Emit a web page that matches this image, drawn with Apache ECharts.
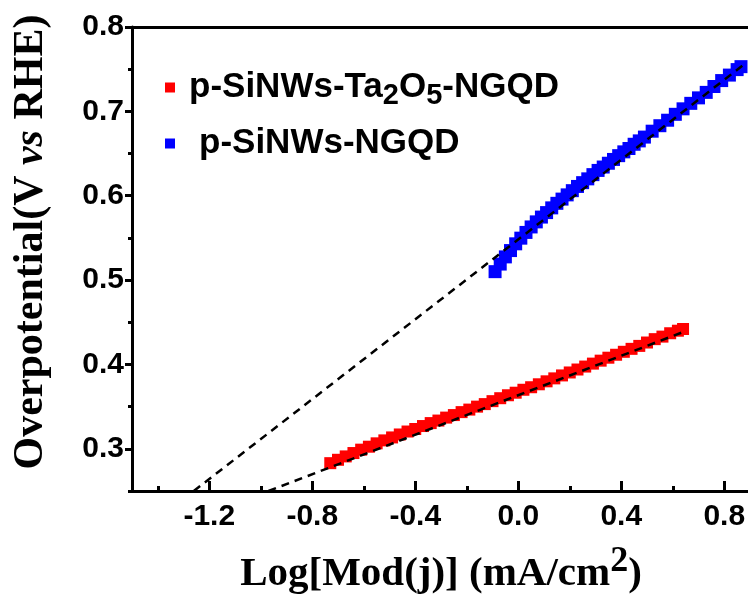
<!DOCTYPE html>
<html>
<head>
<meta charset="utf-8">
<script src="https://cdn.jsdelivr.net/npm/echarts@6/dist/echarts.min.js"></script>
<style>html,body{margin:0;padding:0;background:#fff;}#c{width:748px;height:596px;}</style>
</head>
<body>
<div id="c"></div>
<script>
// ---- data ----
const redName = 'p-SiNWs-Ta2O5-NGQD';
const blueName = 'p-SiNWs-NGQD';

const redX = [-0.73,-0.70,-0.67,-0.64,-0.61,-0.58,-0.55,-0.52,-0.49,-0.46,-0.43,-0.40,-0.37,-0.34,-0.31,-0.28,-0.25,-0.22,-0.19,-0.16,-0.13,-0.10,-0.07,-0.04,-0.01,0.02,0.05,0.08,0.11,0.14,0.17,0.20,0.23,0.26,0.29,0.32,0.35,0.38,0.41,0.44,0.47,0.50,0.53,0.56,0.59,0.62,0.64];
const redY = [0.283,0.287,0.291,0.295,0.299,0.3025,0.3065,0.310,0.3135,0.317,0.3205,0.3235,0.327,0.3305,0.3335,0.337,0.340,0.3435,0.3465,0.350,0.353,0.3565,0.360,0.3635,0.3665,0.370,0.373,0.3765,0.380,0.3835,0.387,0.3905,0.394,0.3975,0.401,0.4045,0.408,0.4115,0.415,0.4185,0.422,0.426,0.430,0.433,0.437,0.440,0.442];

const blueX = [-0.09,-0.07,-0.05,-0.03,-0.01,0.01,0.03,0.05,0.07,0.09,0.11,0.13,0.15,0.17,0.19,0.21,0.23,0.25,0.27,0.29,0.31,0.33,0.35,0.37,0.39,0.41,0.43,0.45,0.47,0.49,0.52,0.55,0.58,0.61,0.64,0.67,0.70,0.73,0.76,0.79,0.82,0.85,0.865];
const blueY = [0.510,0.519,0.5275,0.535,0.543,0.5497,0.5565,0.563,0.569,0.5747,0.580,0.5856,0.591,0.596,0.601,0.606,0.611,0.6155,0.620,0.625,0.630,0.634,0.6385,0.643,0.6475,0.652,0.656,0.661,0.665,0.6695,0.6765,0.683,0.6895,0.6965,0.703,0.7095,0.716,0.7225,0.7295,0.7365,0.743,0.7495,0.753];

// Tafel fit lines (end points)
const fitBlueX = [-1.26, 0.87];
const fitBlueY = [0.25, 0.754];
const fitRedX = [-0.97, 0.645];
const fitRedY = [0.25, 0.439];

// ticks
const xTicks = [-1.2,-0.8,-0.4,0.0,0.4,0.8];
const xMinorTicks = [-1.4,-1.0,-0.6,-0.2,0.2,0.6];
const yTicks = [0.3,0.4,0.5,0.6,0.7,0.8];
const yMinorTicks = [0.25,0.35,0.45,0.55,0.65,0.75];

// ---- chart ----
const zip = (xs, ys) => xs.map((x, i) => [x, ys[i]]);
const SANS = '"Liberation Sans", Arial, sans-serif';
const SERIF = '"Liberation Serif", "Times New Roman", serif';
const black = '#000';

const chart = echarts.init(document.getElementById('c'), null, {renderer: 'canvas'});
const xMin = -1.5, xMax = 0.9, yMin = 0.25, yMax = 0.8;

const option = {
  animation: false,
  backgroundColor: '#fff',
  grid: {left: 132, right: -2, top: 27, bottom: 105, containLabel: false, outerBoundsMode: 'none'},
  legend: {
    orient: 'vertical', left: 160, top: 60, itemWidth: 10, itemHeight: 10, itemGap: 16,
    icon: 'rect',
    data: [redName, blueName],
    formatter: function (name) {
      if (name === redName) return '{sp1|}{t|p-SiNWs-Ta}{s|2}{t|O}{s|5}{t|-NGQD}';
      return '{sp2|}{t|p-SiNWs-NGQD}';
    },
    textStyle: {
      color: black, fontFamily: SANS, fontWeight: 'bold', fontSize: 35,
      rich: {
        sp1: {width: 9},
        sp2: {width: 19},
        t: {fontFamily: SANS, fontWeight: 'bold', fontSize: 35, color: black, lineHeight: 36},
        s: {fontFamily: SANS, fontWeight: 'bold', fontSize: 29, color: black, lineHeight: 36, padding: [16, 0, 0, 0]}
      }
    }
  },
  xAxis: [
    {
      type: 'value', min: xMin, max: xMax, position: 'bottom',
      name: '{a|Log[Mod(j)] (mA/cm}{u|2}{a|)}',
      nameLocation: 'middle', nameGap: 60,
      nameTextStyle: {
        rich: {
          a: {fontFamily: SERIF, fontWeight: 'bold', fontSize: 41, color: black, lineHeight: 46},
          u: {fontFamily: SERIF, fontWeight: 'bold', fontSize: 36, color: black, lineHeight: 46, padding: [0, 0, 24, 0]}
        }
      },
      axisLine: {onZero: false, lineStyle: {color: black, width: 3}},
      axisTick: {inside: true, length: 10, customValues: xTicks, lineStyle: {color: black, width: 3}},
      axisLabel: {customValues: xTicks, formatter: v => v.toFixed(1), fontFamily: SANS, fontWeight: 'bold', fontSize: 30, color: black, margin: 11},
      splitLine: {show: false}
    },
    {
      type: 'value', min: xMin, max: xMax, position: 'bottom',
      axisLine: {show: false, onZero: false},
      axisTick: {inside: true, length: 5, customValues: xMinorTicks, lineStyle: {color: black, width: 3}},
      axisLabel: {show: false},
      splitLine: {show: false}
    },
    {
      type: 'value', min: xMin, max: xMax, position: 'top',
      axisLine: {onZero: false, lineStyle: {color: black, width: 3}},
      axisTick: {show: false}, axisLabel: {show: false}, splitLine: {show: false}
    }
  ],
  yAxis: [
    {
      type: 'value', min: yMin, max: yMax, position: 'left',
      name: '{a|Overpotential(V }{i|vs}{a| RHE)}',
      nameLocation: 'middle', nameGap: 80,
      nameTextStyle: {
        padding: [0, 0, 0, 34],
        rich: {
          a: {fontFamily: SERIF, fontWeight: 'bold', fontSize: 42, color: black},
          i: {fontFamily: SERIF, fontWeight: 'bold', fontStyle: 'italic', fontSize: 42, color: black}
        }
      },
      axisLine: {onZero: false, lineStyle: {color: black, width: 3}},
      axisTick: {inside: false, length: 7, customValues: yTicks, lineStyle: {color: black, width: 3}},
      axisLabel: {customValues: yTicks, formatter: v => v.toFixed(1), fontFamily: SANS, fontWeight: 'bold', fontSize: 30, color: black, margin: 8},
      splitLine: {show: false}
    },
    {
      type: 'value', min: yMin, max: yMax, position: 'left',
      axisLine: {show: false, onZero: false},
      axisTick: {inside: false, length: 4, customValues: yMinorTicks, lineStyle: {color: black, width: 3}},
      axisLabel: {show: false},
      splitLine: {show: false}
    }
  ],
  series: [
    {
      name: redName, type: 'scatter', xAxisIndex: 0, yAxisIndex: 0,
      symbol: 'rect', symbolSize: 12, itemStyle: {color: '#ff0000', opacity: 1},
      emphasis: {disabled: true},
      data: zip(redX, redY), z: 2
    },
    {
      name: blueName, type: 'scatter', xAxisIndex: 0, yAxisIndex: 0,
      symbol: 'rect', symbolSize: 13, itemStyle: {color: '#0000ff', opacity: 1},
      emphasis: {disabled: true},
      data: zip(blueX, blueY), z: 2
    },
    {
      name: 'fitBlue', type: 'line', xAxisIndex: 0, yAxisIndex: 0, showSymbol: false, symbol: 'none',
      lineStyle: {color: black, width: 2.5, type: [8, 6]}, data: zip(fitBlueX, fitBlueY), z: 5, silent: true
    },
    {
      name: 'fitRed', type: 'line', xAxisIndex: 0, yAxisIndex: 0, showSymbol: false, symbol: 'none',
      lineStyle: {color: black, width: 2.5, type: [8, 6]}, data: zip(fitRedX, fitRedY), z: 5, silent: true
    }
  ]
};
chart.setOption(option);
</script>
</body>
</html>
